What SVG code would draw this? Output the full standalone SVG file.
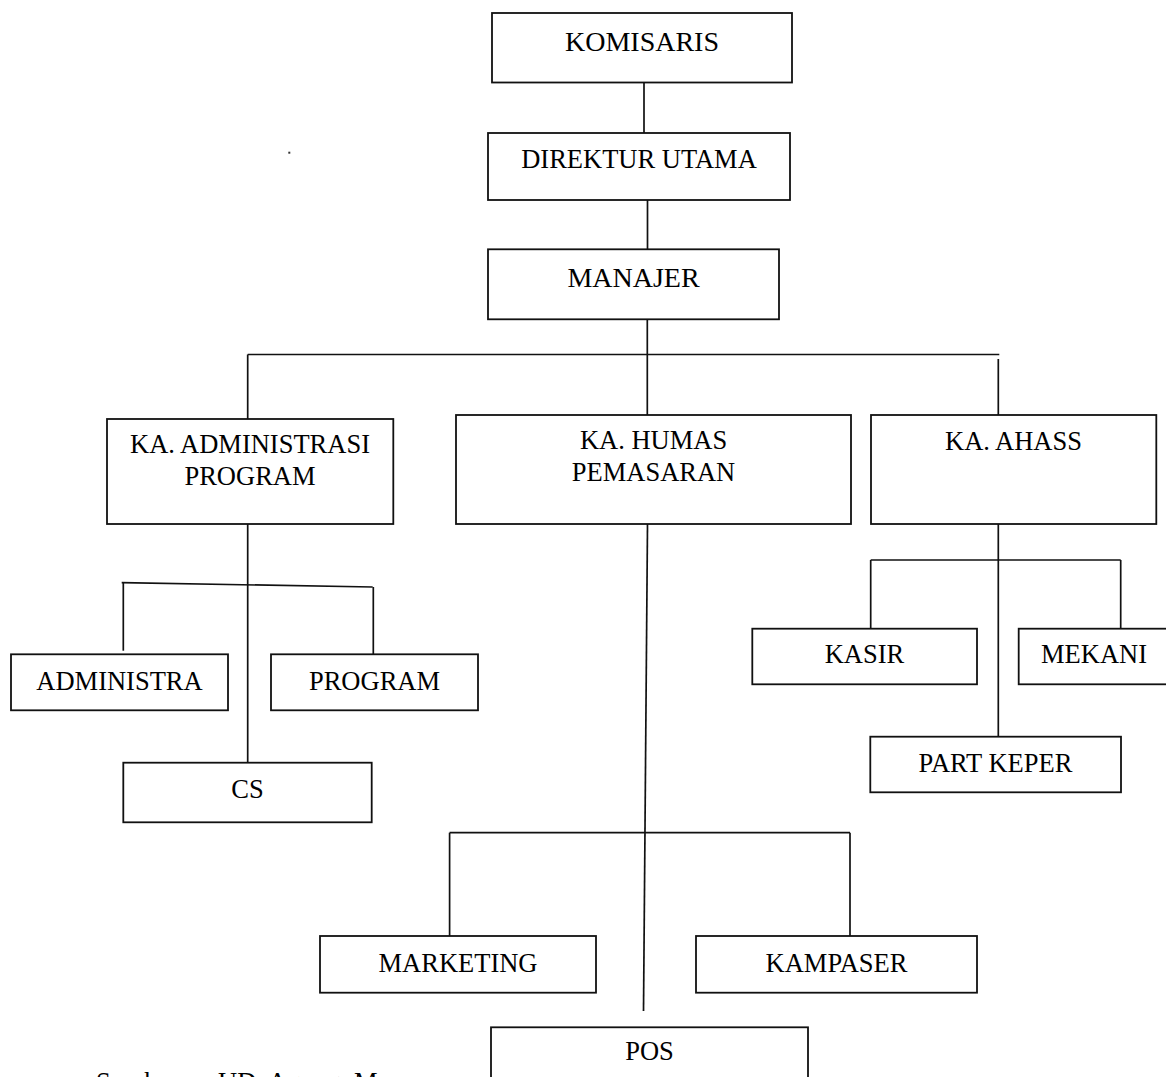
<svg xmlns="http://www.w3.org/2000/svg" width="1166" height="1077" viewBox="0 0 1166 1077">
<style>
.box{fill:#fff;stroke:#111;stroke-width:1.8}
.lbl{font-family:"Liberation Serif","Times New Roman",serif;font-size:26.5px;fill:#000;text-anchor:middle}
.big{font-size:28px}
.ln{stroke:#111;stroke-width:1.7;fill:none}
.src{font-family:"Liberation Serif","Times New Roman",serif;font-size:26.5px;fill:#000}
</style>
<rect width="1166" height="1077" fill="#fff"/>
<g id="connectors">
<line class="ln" x1="644" y1="83" x2="644" y2="133"/>
<line class="ln" x1="647.5" y1="200" x2="647.5" y2="249"/>
<line class="ln" x1="647.3" y1="319" x2="647.3" y2="415"/>
<line class="ln" x1="247.7" y1="354.5" x2="999.3" y2="354.5"/>
<line class="ln" x1="247.7" y1="354.5" x2="247.7" y2="419"/>
<line class="ln" x1="998.3" y1="359" x2="998.3" y2="415"/>
<line class="ln" x1="247.7" y1="524" x2="247.7" y2="762"/>
<line class="ln" x1="121.7" y1="582.7" x2="372.7" y2="587"/>
<line class="ln" x1="123.3" y1="582.7" x2="123.3" y2="650.7"/>
<line class="ln" x1="373.3" y1="587" x2="373.3" y2="654"/>
<line class="ln" x1="647.5" y1="524" x2="643.5" y2="1011"/>
<line class="ln" x1="449.6" y1="832.7" x2="850" y2="832.7"/>
<line class="ln" x1="449.6" y1="832.7" x2="449.6" y2="936"/>
<line class="ln" x1="850" y1="832.7" x2="850" y2="936"/>
<line class="ln" x1="998.3" y1="524" x2="998.3" y2="737"/>
<line class="ln" x1="870.7" y1="560" x2="1120.7" y2="560"/>
<line class="ln" x1="870.7" y1="560" x2="870.7" y2="628.7"/>
<line class="ln" x1="1120.7" y1="560" x2="1120.7" y2="628.7"/>
</g>
<g id="komisaris"><rect class="box" x="492" y="13" width="300" height="69.5"/><text class="lbl big" x="642" y="51">KOMISARIS</text></g>
<g id="direktur-utama"><rect class="box" x="488" y="133" width="302" height="67"/><text class="lbl" x="639" y="167.7">DIREKTUR UTAMA</text></g>
<g id="manajer"><rect class="box" x="488" y="249.3" width="291" height="70"/><text class="lbl big" x="633.5" y="286.7">MANAJER</text></g>
<g id="ka-administrasi"><rect class="box" x="107" y="419" width="286.3" height="105"/><text class="lbl" x="250" y="452.7">KA. ADMINISTRASI</text><text class="lbl" x="250" y="485">PROGRAM</text></g>
<g id="ka-humas"><rect class="box" x="456" y="415" width="395" height="109"/><text class="lbl" x="653.5" y="449.3">KA. HUMAS</text><text class="lbl" x="653.5" y="481">PEMASARAN</text></g>
<g id="ka-ahass"><rect class="box" x="871" y="415" width="285.3" height="109"/><text class="lbl" x="1013.5" y="450">KA. AHASS</text></g>
<g id="administra"><rect class="box" x="11" y="654.3" width="217" height="56"/><text class="lbl" x="119.5" y="690">ADMINISTRA</text></g>
<g id="program"><rect class="box" x="271" y="654.3" width="207" height="56"/><text class="lbl" x="374.5" y="690">PROGRAM</text></g>
<g id="cs"><rect class="box" x="123.3" y="762.7" width="248.4" height="59.6"/><text class="lbl" x="247.5" y="797.7">CS</text></g>
<g id="kasir"><rect class="box" x="752.3" y="628.7" width="224.7" height="55.6"/><text class="lbl" x="864.5" y="662.7">KASIR</text></g>
<g id="mekani"><rect class="box" x="1018.7" y="628.7" width="180" height="55.6"/><text class="lbl" x="1094" y="662.7">MEKANI</text></g>
<g id="part-keper"><rect class="box" x="870.3" y="736.7" width="250.7" height="55.6"/><text class="lbl" x="995.5" y="772.3">PART KEPER</text></g>
<g id="marketing"><rect class="box" x="320" y="936" width="276" height="56.7"/><text class="lbl" x="458" y="971.7">MARKETING</text></g>
<g id="kampaser"><rect class="box" x="696" y="936" width="281" height="56.7"/><text class="lbl" x="836.5" y="971.7">KAMPASER</text></g>
<g id="pos"><rect class="box" x="491" y="1027.3" width="317" height="80"/><text class="lbl" x="649.5" y="1060">POS</text></g>
<rect x="288.3" y="151.7" width="2" height="2" fill="#333"/>
<text class="src" y="1091"><tspan x="96">Sumber</tspan><tspan x="218">UD</tspan><tspan x="268">Agung</tspan><tspan x="354">M</tspan></text>
</svg>
